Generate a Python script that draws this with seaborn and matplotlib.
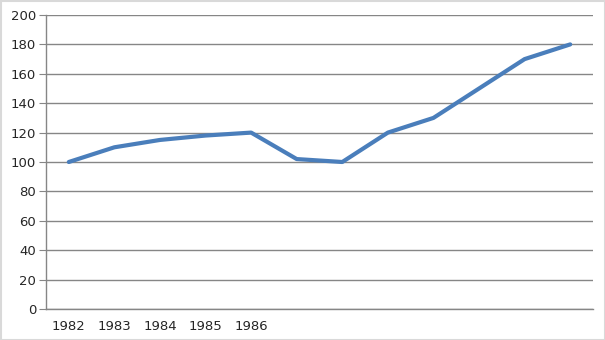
import matplotlib
matplotlib.use("Agg")
import matplotlib.pyplot as plt
import seaborn as sns
import pandas as pd
import numpy as np

sns.set_style("white")
plt.rcParams['font.family'] = ['DejaVu Sans']

categories = ["1982", "1983", "1984", "1985", "1986", "", "", "", "", "", "", ""]
values = [100, 110, 115, 118, 120, 102, 100, 120, 130, 150, 170, 180]
y_ticks = [0, 20, 40, 60, 80, 100, 120, 140, 160, 180, 200]

df = pd.DataFrame({"idx": np.arange(len(values)), "value": values})

fig = plt.figure(figsize=(6.05, 3.40), dpi=100)
ax = fig.add_axes([46/605, 1 - 309/340, (593-46)/605, (309-15)/340])

sns.lineplot(data=df, x="idx", y="value", ax=ax, color="#4a7ebb", linewidth=3)

ax.set_xlim(-0.5, len(values) - 0.5)
ax.set_ylim(0, 200)
ax.set_yticks(y_ticks)
ax.set_yticklabels([str(t) for t in y_ticks], fontsize=9.5)
ax.set_xticks(np.arange(len(values)))
ax.set_xticklabels(categories, fontsize=9.5)
ax.tick_params(axis="x", which="major", length=0, pad=8)
ax.set_xticks(np.arange(len(values) + 1) - 0.5, minor=True)
ax.tick_params(axis="x", which="minor", length=5, color="#868686", direction="out")
ax.tick_params(axis="y", length=5, color="#868686", direction="out", left=True, pad=2)
ax.set_xlabel("")
ax.set_ylabel("")
ax.grid(axis="y", color="#868686", linewidth=1)
ax.set_axisbelow(True)
for s in ["top", "right"]:
    ax.spines[s].set_visible(False)
for s in ["left", "bottom"]:
    ax.spines[s].set_color("#868686")
    ax.spines[s].set_linewidth(1)

fig.patches.append(plt.Rectangle((0.5/605, 0.5/340), 1 - 1/605, 1 - 1/340,
                                 transform=fig.transFigure, fill=False,
                                 edgecolor="#d9d9d9", linewidth=1.5))

fig.savefig("out.png", dpi=100)
